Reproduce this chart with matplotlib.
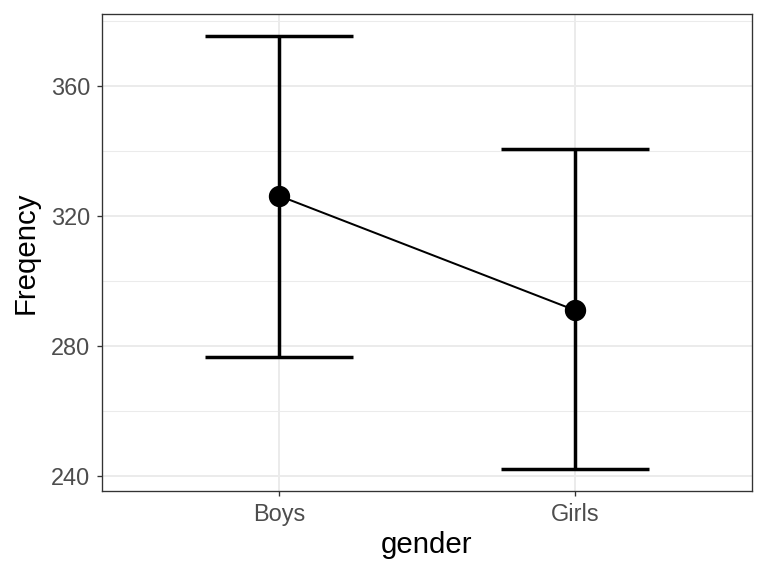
import numpy as np
import matplotlib
matplotlib.use('Agg')
from matplotlib import pyplot as plt

# data
gender = ['Boys', 'Girls']
freqMean = [326.2, 291.1]
freqLow = [276.6, 242.2]
freqHigh = [375.4, 340.6]

plt.rcParams['font.family'] = ['Liberation Sans', 'DejaVu Sans']

fig = plt.figure(figsize=(8, 6), dpi=96)
ax = fig.add_axes([102/768, (576-491)/576, 650/768, 477/576])

xpos = np.arange(1, len(gender)+1)
mean = np.array(freqMean)
low = np.array(freqLow)
high = np.array(freqHigh)

# grid like theme_bw
for y in [260, 300, 340, 380]:
    ax.axhline(y, color='#EBEBEB', linewidth=0.8, zorder=0)
for y in [240, 280, 320, 360]:
    ax.axhline(y, color='#EBEBEB', linewidth=1.5, zorder=0)
for x in xpos:
    ax.axvline(x, color='#EBEBEB', linewidth=1.5, zorder=0)

# error bars
ax.vlines(xpos, low, high, color='black', linewidth=2.6, zorder=2)
ax.hlines(low, xpos-0.25, xpos+0.25, color='black', linewidth=2.6, zorder=2)
ax.hlines(high, xpos-0.25, xpos+0.25, color='black', linewidth=2.6, zorder=2)

ax.plot(xpos, mean, color='black', linewidth=1.5, zorder=3)
ax.plot(xpos, mean, 'o', color='black', markersize=15, zorder=4)

ax.set_xlim(0.4, 2.6)
ymin = low.min()
ymax = high.max()
pad = (ymax - ymin)*0.05
ax.set_ylim(ymin-pad, ymax+pad)
ax.set_xticks(xpos)
ax.set_xticklabels(gender)
ax.set_yticks([240, 280, 320, 360])

ax.tick_params(axis='both', colors='#333333', length=4, width=1, labelsize=17.6, labelcolor='#4D4D4D', pad=5)
for s in ax.spines.values():
    s.set_color('#333333')
    s.set_linewidth(1)

ax.set_xlabel('gender', fontsize=22, labelpad=4)
ax.set_ylabel('Freqency', fontsize=22, labelpad=8)

fig.savefig('out.png', dpi=96)
plt.close()
